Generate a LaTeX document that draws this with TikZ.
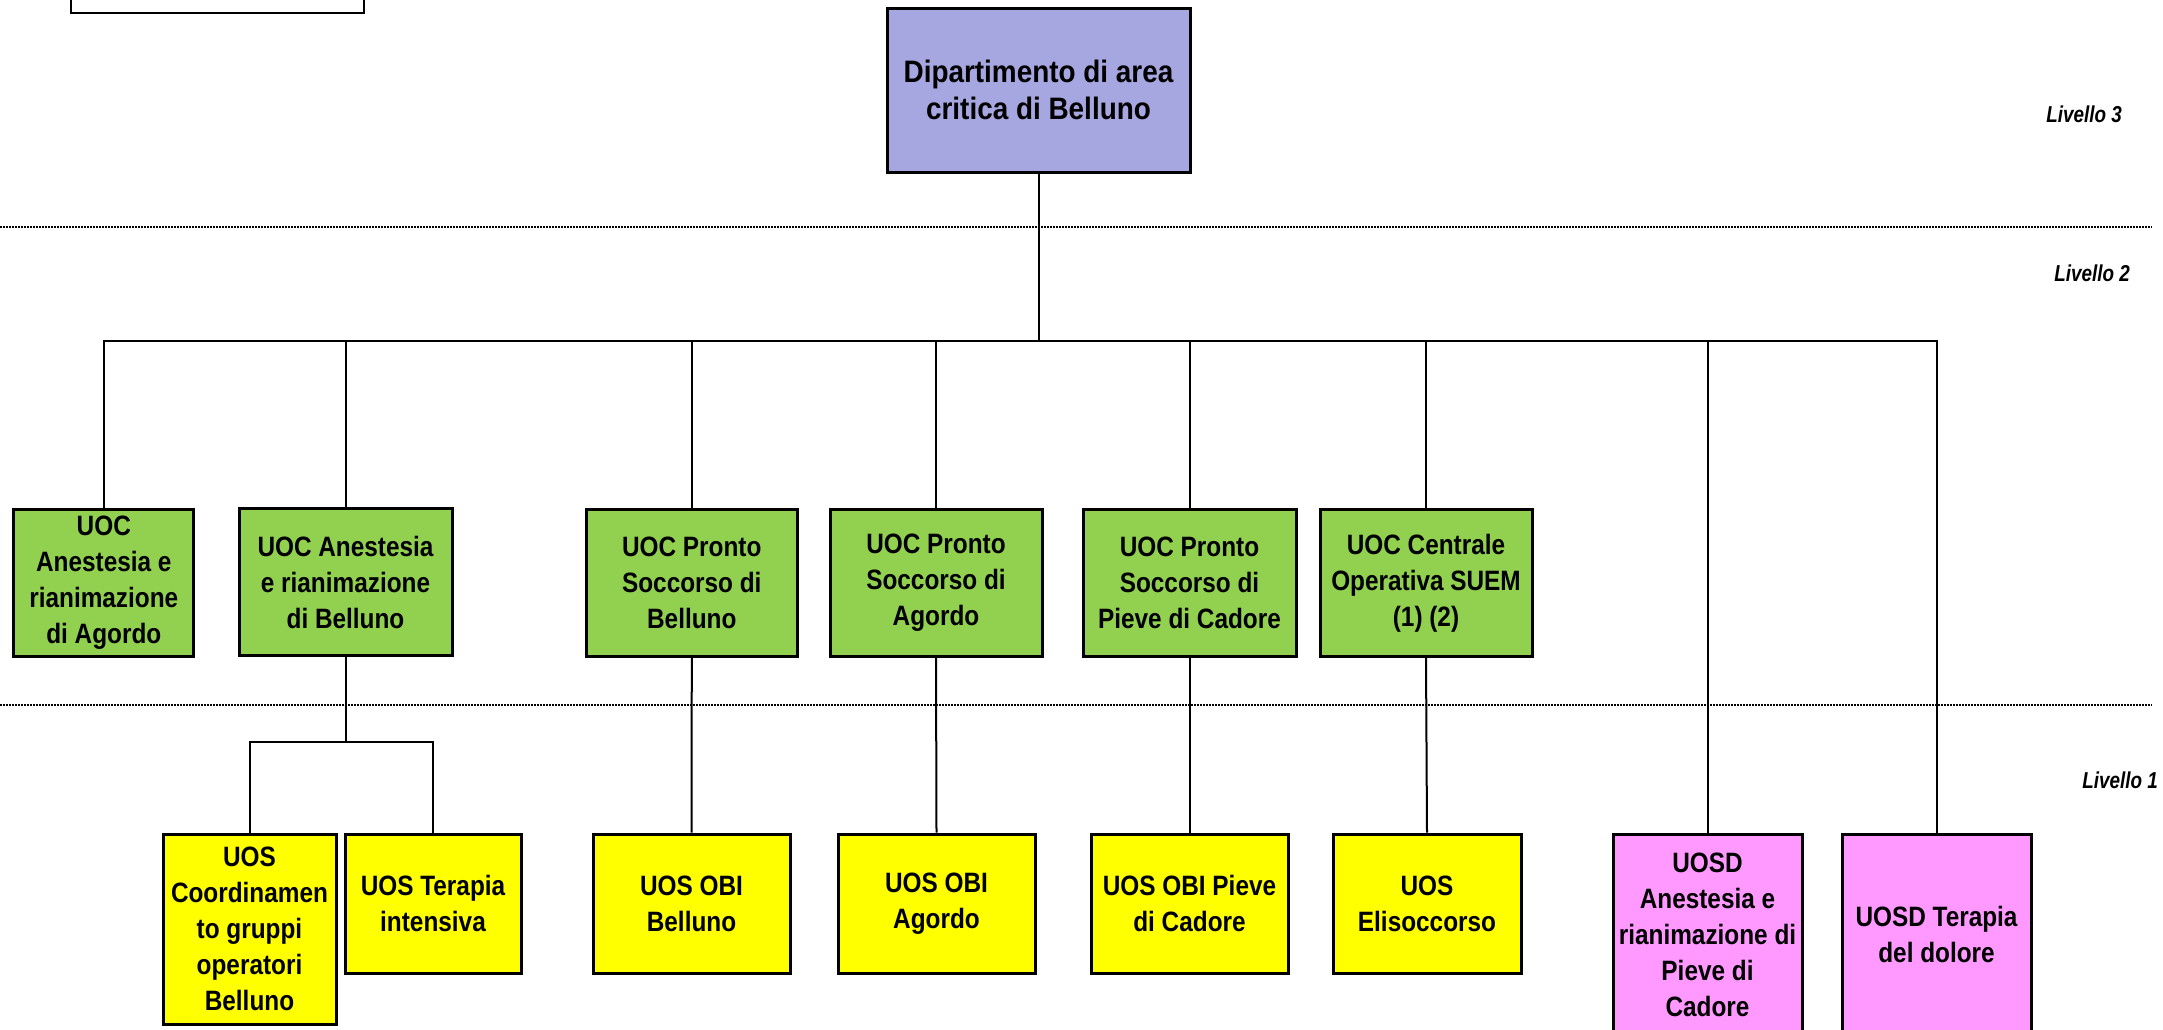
\documentclass[tikz,border=0pt]{standalone}
\usepackage{fontspec}
\newfontfamily\orgfont{Liberation Sans}[FakeStretch=0.87]
\newfontfamily\deptfont{Liberation Sans}[FakeStretch=0.9]
\newfontfamily\lvlfont{Liberation Sans}[FakeStretch=0.82]
\definecolor{deptblue}{RGB}{166,166,224}
\definecolor{uocgreen}{RGB}{146,208,80}
\definecolor{uosyellow}{RGB}{255,255,0}
\definecolor{uosdpink}{RGB}{255,153,255}

\begin{document}
\begin{tikzpicture}[x=1pt,y=-1pt,
        unit/.style = {draw,line width=3pt,inner sep=0pt,align=center,
                       font=\orgfont\bfseries\fontsize{28}{36}\selectfont},
        uoc/.style = {unit,fill=uocgreen,minimum height=147},
        uos/.style = {unit,fill=uosyellow,minimum height=139},
        uosd/.style = {unit,fill=uosdpink,minimum height=201},
        link/.style = {line width=2pt},
        sep/.style = {line width=1.5pt,dash pattern=on 1.5pt off 1.5pt},
        lvl/.style = {anchor=east,inner sep=0pt,
                      font=\lvlfont\bfseries\itshape\fontsize{23}{27}\selectfont}]
    \useasboundingbox (0,0) rectangle (2163,1029);

    % separators between the levels
    \draw[sep] (0,227) -- (2152,227);
    \draw[sep] (0,705) -- (2152,705);

    \node[draw,line width=2.5pt,minimum width=293,minimum height=73] (legend) at (217.5,-23.5) {};

    \node[unit,fill=deptblue,minimum width=303,minimum height=164,
          font=\deptfont\bfseries\fontsize{31}{37}\selectfont] (dip) at (1038.5,90)
        {Dipartimento di area\\critica di Belluno};

    \node[lvl] (liv3) at (2122,114) {Livello 3};
    \node[lvl] (liv2) at (2130,273) {Livello 2};
    \node[lvl] (liv1) at (2158,780) {Livello 1};

    % livello 2
    \node[uoc,minimum width=180] (uocAgo) at (103.8,583) {UOC\\Anestesia e\\rianimazione\\di Agordo};
    \node[uoc,minimum width=213] (uocAneBl) at (345.5,582) {UOC Anestesia\\e rianimazione\\di Belluno};
    \node[uoc,minimum width=211] (uocPSBl) at (691.8,583) {UOC Pronto\\Soccorso di\\Belluno};
    \node[uoc,minimum width=212] (uocPSAg) at (936,583) {UOC Pronto\\Soccorso di\\Agordo};
    \node[uoc,minimum width=213] (uocPSPi) at (1189.5,583) {UOC Pronto\\Soccorso di\\Pieve di Cadore};
    \node[uoc,minimum width=212] (uocSuem) at (1426,583) {UOC Centrale\\Operativa SUEM\\(1) (2)};

    % livello 1
    \node[uos,minimum width=173,minimum height=190] (uosCoord) at (249.5,929)
        {UOS\\Coordinamen\\to gruppi\\operatori\\Belluno};
    \node[uos,minimum width=176] (uosTI) at (433,903.5) {UOS Terapia\\intensiva};
    \node[uos,minimum width=197] (uosObiBl) at (691.5,903.5) {UOS OBI\\Belluno};
    \node[uos,minimum width=197] (uosObiAg) at (936.5,903.5) {UOS OBI\\Agordo};
    \node[uos,minimum width=197] (uosObiPi) at (1189.5,903.5) {UOS OBI Pieve\\di Cadore};
    \node[uos,minimum width=188] (uosElis) at (1427,903.5) {UOS\\Elisoccorso};
    \node[uosd,minimum width=189] (uosdAne) at (1707.5,934.5)
        {UOSD\\Anestesia e\\rianimazione di\\Pieve di\\Cadore};
    \node[uosd,minimum width=189] (uosdTd) at (1936.5,934.5) {UOSD Terapia\\del dolore};

    \coordinate (bus) at (1038.5,341);
    \coordinate (subbus) at (345.5,742);

    \draw[link] (dip.south) -- (bus);
    \foreach \n in {uocAgo,uocAneBl,uocPSBl,uocPSAg,uocPSPi,uocSuem,uosdAne,uosdTd}
        \draw[link] (bus) -| (\n.north);

    \draw[link] (uocAneBl.south) -- (subbus);
    \draw[link] (subbus) -| (uosCoord.north);
    \draw[link] (subbus) -| (uosTI.north);
    \draw[link] (uocPSBl.south) -- (uosObiBl.north);
    \draw[link] (uocPSAg.south) -- (uosObiAg.north);
    \draw[link] (uocPSPi.south) -- (uosObiPi.north);
    \draw[link] (uocSuem.south) -- (uosElis.north);
\end{tikzpicture}
\end{document}
